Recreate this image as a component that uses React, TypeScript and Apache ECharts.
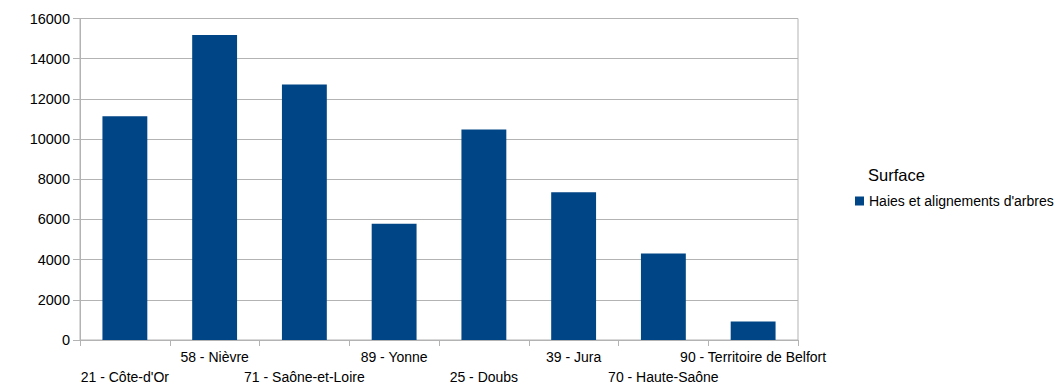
import React, { useEffect, useRef } from "react";
import * as echarts from "echarts";

const categories = [
  "21 - Côte-d'Or",
  "58 - Nièvre",
  "71 - Saône-et-Loire",
  "89 - Yonne",
  "25 - Doubs",
  "39 - Jura",
  "70 - Haute-Saône",
  "90 - Territoire de Belfort",
];
const values = [11130, 15180, 12720, 5780, 10470, 7350, 4300, 920];
const seriesName = "Haies et alignements d'arbres";
const legendTitle = "Surface";

export default function App() {
  const ref = useRef<HTMLDivElement>(null);
  useEffect(() => {
    document.body.style.margin = "0";
    const chart = echarts.init(ref.current!, null, { renderer: "svg" });
    const font = "'Liberation Sans', Arial, sans-serif";
    chart.setOption({
      animation: false,
      textStyle: { fontFamily: font },
      grid: { left: 80, right: 262, top: 18.5, bottom: 46.3, show: true, borderColor: "#b3b3b3", borderWidth: 1 },
      legend: {
        show: true,
        left: 855,
        top: 194,
        padding: 0,
        icon: "rect",
        itemWidth: 9,
        itemHeight: 9,
        itemGap: 4,
        textStyle: { fontFamily: font, fontSize: 14, color: "#000" },
        data: [seriesName],
      },
      graphic: [
        {
          type: "text",
          x: 868,
          y: 175,
          style: { text: legendTitle, fontFamily: font, fontSize: 16.5, fill: "#000", verticalAlign: "middle" },
        },
      ],
      xAxis: {
        type: "category",
        data: categories,
        axisLine: { lineStyle: { color: "#b3b3b3" } },
        axisTick: { show: true, length: 6, lineStyle: { color: "#b3b3b3" }, interval: 0 },
        axisLabel: {
          interval: 0,
          margin: 7,
          fontFamily: font,
          fontSize: 14,
          color: "#000",
          lineHeight: 20,
          verticalAlign: "top",
          formatter: (v: string, i: number) => (i % 2 === 0 ? "\n" + v : v),
        },
      },
      yAxis: {
        type: "value",
        min: 0,
        max: 16000,
        interval: 2000,
        axisLine: { show: true, lineStyle: { color: "#b3b3b3" } },
        axisTick: { show: true, length: 7, lineStyle: { color: "#b3b3b3" } },
        splitLine: { lineStyle: { color: "#b3b3b3" } },
        axisLabel: { fontFamily: font, fontSize: 14.5, color: "#000", margin: 10, formatter: (v: number) => String(v) },
      },
      series: [
        {
          name: seriesName,
          type: "bar",
          data: values,
          barWidth: "50%",
          itemStyle: { color: "#004586" },
        },
      ],
    });
    return () => chart.dispose();
  }, []);
  return <div ref={ref} style={{ width: 1060, height: 387 }} />;
}
